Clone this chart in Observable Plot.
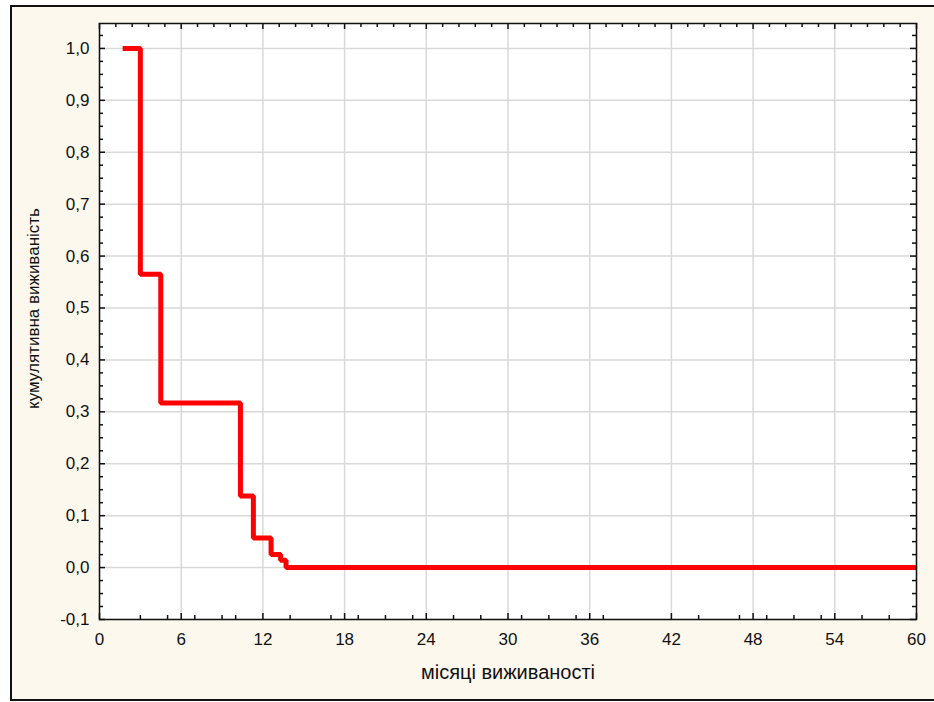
<!DOCTYPE html>
<html>
<head>
<meta charset="utf-8">
<script src="https://cdn.jsdelivr.net/npm/d3@7"></script>
<script src="https://cdn.jsdelivr.net/npm/@observablehq/plot@0.6"></script>
<style>
  html, body { margin: 0; padding: 0; background: #ffffff; }
  #wrap { position: relative; width: 934px; height: 702px; overflow: hidden; }
  #panel { position: absolute; left: 10px; top: 5px; width: 940px; height: 696px; border: 2px solid #111; background: #fdf8ed; box-sizing: border-box; }
  #chart { position: absolute; left: 0; top: 0; }
</style>
</head>
<body>
<div id="wrap"><div id="panel"></div><div id="chart"></div></div>
<script>
// survival curve (step-after)
const months   = [1.7, 3.0, 4.5, 10.35, 11.3, 12.6, 13.3, 13.7, 60];
const survival = [1.0, 0.565, 0.317, 0.138, 0.057, 0.025, 0.014, 0.0, 0.0];

const xTicks = [0, 6, 12, 18, 24, 30, 36, 42, 48, 54, 60];
const yTicks = [-0.1, 0, 0.1, 0.2, 0.3, 0.4, 0.5, 0.6, 0.7, 0.8, 0.9, 1.0];
const xMinorBottom = [3, 5, 7, 9, 10, 14, 17, 19, 21, 23, 26, 28, 31, 33, 35, 37, 44, 47, 49, 51, 53, 56, 58];
const xMinorTop = d3.range(0, 60.001, 1.2).filter(v => Math.abs(v / 6 - Math.round(v / 6)) > 1e-6);
const yMinor = d3.range(-0.1, 1.04, 0.025).filter(v => Math.abs(v * 10 - Math.round(v * 10)) > 1e-6);

const xLabel = "місяці виживаності";
const yLabel = "кумулятивна виживаність";

const W = 934, H = 702, mL = 99, mR = 18, mT = 23, mB = 83;
const innerW = W - mL - mR, innerH = H - mT - mB;

const data = months.map((m, i) => ({m, s: survival[i]}));
const fmt = d => d3.format(".1f")(d).replace(".", ",").replace("−", "-");

const tickStyle = {stroke: "#111", strokeWidth: 1.5};

const chart = Plot.plot({
  width: W,
  height: H,
  marginLeft: mL,
  marginRight: mR,
  marginTop: mT,
  marginBottom: mB,
  style: {background: "transparent", fontFamily: "'Liberation Sans', Arial, sans-serif", fontSize: "17px", color: "#111"},
  x: {domain: [0, 60], axis: null},
  y: {domain: [-0.1, 1.048], axis: null},
  marks: [
    Plot.frame({fill: "white", stroke: null}),
    Plot.gridX(xTicks, {stroke: "#d9d9d9", strokeOpacity: 1, strokeWidth: 1.5}),
    Plot.gridY(yTicks, {stroke: "#d9d9d9", strokeOpacity: 1, strokeWidth: 1.5}),
    // inward ticks: bottom
    Plot.tickX(xTicks, {x: d => d, insetTop: innerH - 6, ...tickStyle}),
    Plot.tickX(xMinorBottom, {x: d => d, insetTop: innerH - 4, ...tickStyle}),
    // top
    Plot.tickX(xTicks, {x: d => d, insetBottom: innerH - 6, ...tickStyle}),
    Plot.tickX(xMinorTop, {x: d => d, insetBottom: innerH - 4, ...tickStyle}),
    // left
    Plot.tickY(yTicks, {y: d => d, insetRight: innerW - 6, ...tickStyle}),
    Plot.tickY(yMinor, {y: d => d, insetRight: innerW - 4, ...tickStyle}),
    // right
    Plot.tickY(yTicks, {y: d => d, insetLeft: innerW - 6, ...tickStyle}),
    Plot.tickY(yMinor, {y: d => d, insetLeft: innerW - 4, ...tickStyle}),
    // labels
    Plot.axisX(xTicks, {anchor: "bottom", tickSize: 0, tickPadding: 13, tickFormat: d => String(d), label: null, fill: "#111", fontSize: 17}),
    Plot.axisY(yTicks, {anchor: "left", tickSize: 0, tickPadding: 10, tickFormat: fmt, label: null, fill: "#111", fontSize: 17}),
    Plot.line(data, {x: "m", y: "s", curve: "step-after", stroke: "#ff0000", strokeWidth: 5, strokeLinejoin: "miter", strokeLinecap: "butt"}),
    Plot.frame({stroke: "#111", strokeWidth: 1.5}),
    Plot.text([xLabel], {frameAnchor: "bottom", dy: 59, text: d => d, fontSize: 20, fill: "#111", textAnchor: "middle"}),
    Plot.text([yLabel], {frameAnchor: "left", dx: -66, dy: -13, rotate: -90, text: d => d, fontSize: 17, fill: "#111", textAnchor: "middle"})
  ]
});
document.getElementById("chart").appendChild(chart);
</script>
</body>
</html>
